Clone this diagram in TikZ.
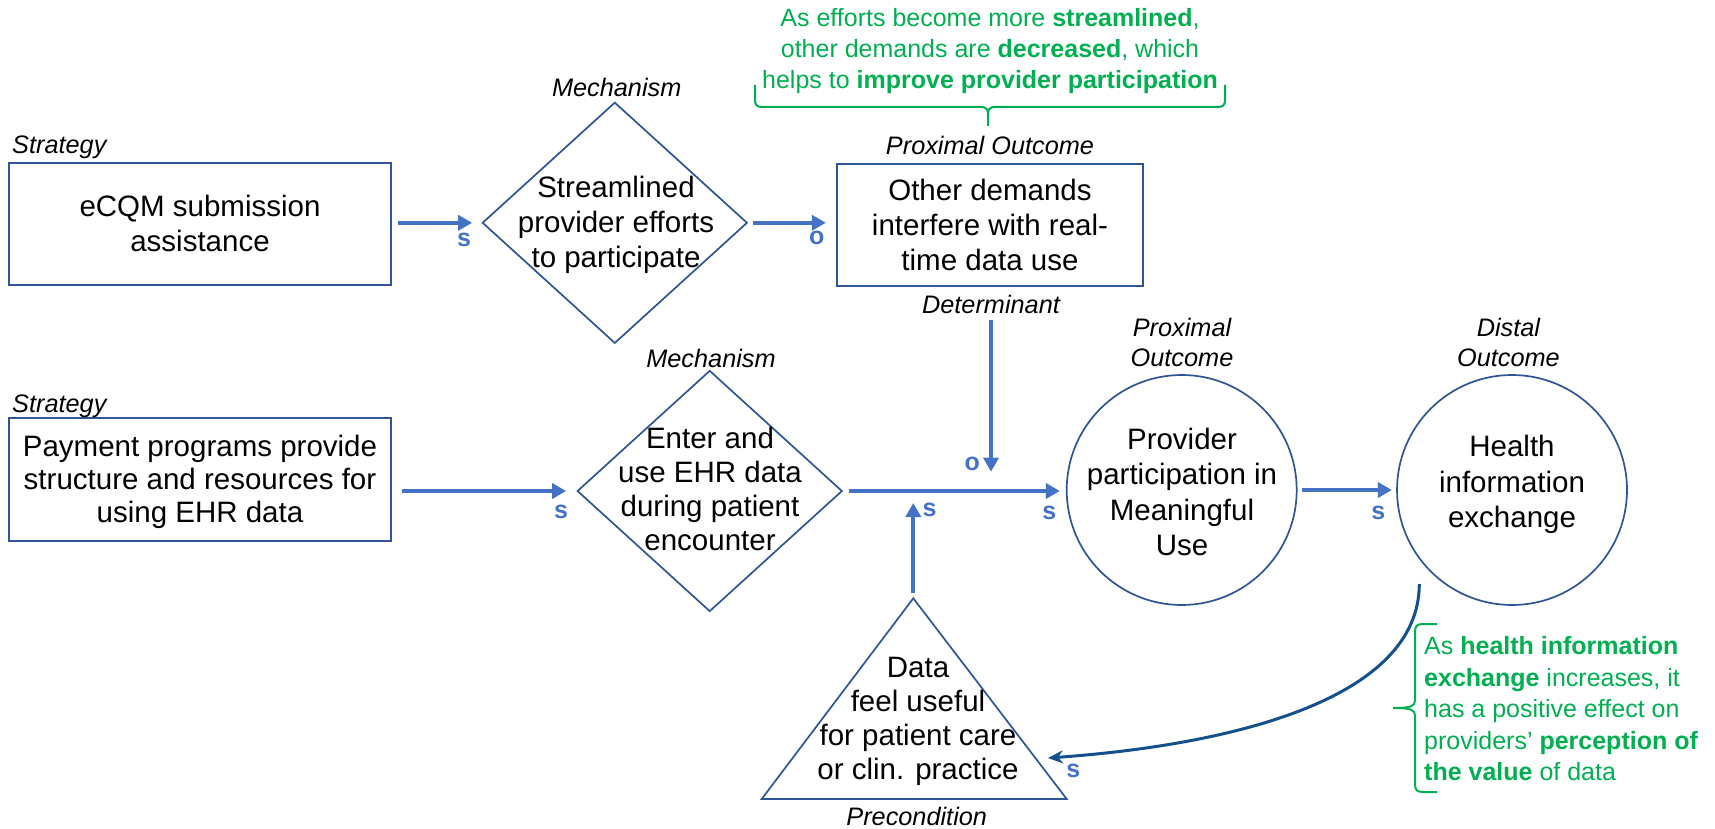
\documentclass[tikz,border=0pt]{standalone}
\usepackage{fontspec}
\setmainfont{Liberation Sans}
\usetikzlibrary{arrows.meta,shapes.geometric,calc}

\definecolor{outline}{RGB}{47,85,151}
\definecolor{flowblue}{RGB}{68,114,196}
\definecolor{notegreen}{RGB}{0,176,80}
\definecolor{loopblue}{RGB}{20,80,140}

\begin{document}
\begin{tikzpicture}[x=1pt,y=-1pt,
  shapeline/.style={draw=outline,line width=1.7pt},
  box/.style={shapeline,rectangle,minimum width=382pt,minimum height=122pt,inner sep=0pt},
  dia/.style={shapeline,diamond,minimum width=265pt,minimum height=241pt,inner sep=0pt},
  ring/.style={shapeline,circle,minimum size=230pt,inner sep=0pt},
  txt/.style={align=center,inner sep=0pt,font=\fontsize{29.5}{35}\selectfont},
  tag/.style={align=center,inner sep=0pt,font=\fontsize{25.3}{30}\selectfont\itshape},
  sig/.style={inner sep=0pt,text=flowblue,font=\fontsize{25}{25}\selectfont\bfseries},
  note/.style={inner sep=0pt,text=notegreen,font=\fontsize{25}{31}\selectfont},
  flow/.style={draw=flowblue,line width=4pt,-{Triangle[length=14pt,width=15pt]}},
  feedback/.style={draw=loopblue,line width=3pt,-{Stealth[length=15pt,width=13pt]}},
  bracket/.style={draw=notegreen,line width=2pt,line join=round}]

\path[use as bounding box,fill=white] (0,0) rectangle (1715,829);

% ---------- upper row ----------
\node[box] (b1) at (200,224) {};
\node[txt] (b1t) at (200,223) {eCQM submission\\assistance};
\node[tag,anchor=west] (b1l) at (12,147) {Strategy};

\node[dia] (d1) at (614.8,222.8) {};
\node[txt] (d1t) at (616,224.5) {Streamlined\\provider efforts\\to participate};
\node[tag] (d1l) at (616.7,87) {Mechanism};

\node[box,minimum width=306pt] (b2) at (990.3,225) {};
\node[txt] (b2t) at (990,224.5) {Other demands\\interfere with real-\\time data use};
\node[tag] (b2l) at (990,145.5) {Proximal Outcome};
\node[tag] (detlab) at (991,304) {Determinant};

% ---------- note above the upper row ----------
\node[note,align=center] (topnote) at (990,51)
  {As efforts become more \textbf{streamlined},\\
   other demands are \textbf{decreased}, which\\
   helps to \textbf{improve provider participation}};
\draw[bracket] (755,85) -- (755,100) .. controls (755,105) and (757,107) .. (762,107)
  -- (981,107) .. controls (986,107) and (988,109) .. (988,114) -- (988,126)
  (988,114) .. controls (988,109) and (990,107) .. (995,107)
  -- (1218,107) .. controls (1223,107) and (1225,105) .. (1225,100) -- (1225,85);

% ---------- lower row ----------
\node[box,minimum height=123pt] (b3) at (200,479.7) {};
\node[txt,font=\fontsize{29.5}{33}\selectfont] (b3t) at (200,482) {Payment programs provide\\structure and resources for\\using EHR data};
\node[tag,anchor=west] (b3l) at (12,406) {Strategy};

\node[dia] (d2) at (709.7,491) {};
\node[txt,font=\fontsize{29.5}{34}\selectfont] (d2t) at (710,488.5) {Enter and\\use EHR data\\during patient\\encounter};
\node[tag] (d2l) at (711,358) {Mechanism};

\node[ring] (c1) at (1181.7,490) {};
\node[txt,font=\fontsize{29.5}{35.5}\selectfont] (c1t) at (1182,492) {Provider\\participation in\\Meaningful\\Use};
\node[tag] (c1l) at (1182,342) {Proximal\\Outcome};

\node[ring] (c2) at (1512,490) {};
\node[txt,font=\fontsize{29.5}{35.5}\selectfont] (c2t) at (1512,484.5) {Health\\information\\exchange};
\node[tag] (c2l) at (1508.4,342) {Distal\\Outcome};

% precondition triangle
\coordinate (tri-top) at (913.3,598.3);
\coordinate (tri-l) at (761.7,799);
\coordinate (tri-r) at (1066.7,799);
\draw[shapeline] (tri-top) -- (tri-r) -- (tri-l) -- cycle;
\node[txt,font=\fontsize{29.5}{34}\selectfont] (trit) at (918,721) {Data\\feel useful\\for patient care\\or clin. practice};
\node[tag] (tril) at (916.7,816) {Precondition};

% ---------- connectors ----------
\draw[flow] ($(b1.east |- d1.west)+(6.5,0)$) -- ($(d1.west)+(-9.3,0)$);
\node[sig] (s1) at (464,240) {s};

\draw[flow] ($(d1.east)+(4.4,0)$) -- ($(d1.east -| b2.west)+(-10.6,0)$);
\node[sig] (o1) at (816.7,238.3) {o};

\coordinate (jo) at (991,491);
\draw[flow] ($(detlab.south)+(0,7)$) -- ($(jo)+(0,-19.3)$);
\node[sig] (o2) at (972.3,464.3) {o};

\draw[flow] ($(b3.east |- d2.west)+(10.4,0)$) -- ($(d2.west)+(-10.2,0)$);
\node[sig] (s2) at (561,511.7) {s};

\draw[flow] ($(d2.east)+(5.7,0)$) -- ($(d2.east -| c1.west)+(-6,0)$);
\node[sig] (s3) at (1049.3,512.7) {s};

\coordinate (js) at (913.3,491);
\draw[flow] ($(tri-top)+(0,-5)$) -- ($(js)+(0,12)$);
\node[sig] (s4) at (929.6,510) {s};

\draw[flow] ($(c1.east)+(4.3,0)$) -- ($(c2.west)+(-4.3,0)$);
\node[sig] (s5) at (1378.3,512.7) {s};

% feedback from exchange back to the precondition
\coordinate (loop-start) at ($(c2.center)+(-92.7,94)$);
\coordinate (loop-end) at (1048,758);
\draw[feedback] (loop-start) .. controls (1419,700) and (1230,745) .. (loop-end);
\node[sig] (s6) at (1073.3,771) {s};

% ---------- note beside the feedback loop ----------
\draw[bracket] (1437,624) -- (1423,624) .. controls (1417,624) and (1415,626) .. (1415,632)
  -- (1415,700) .. controls (1415,706) and (1412,708) .. (1393,708)
  (1393,708) .. controls (1412,708) and (1415,710) .. (1415,716)
  -- (1415,784) .. controls (1415,790) and (1417,792) .. (1423,792) -- (1437,792);
\node[note,align=left,anchor=west,font=\fontsize{25}{31.5}\selectfont] (sidenote) at (1424,709)
  {As \textbf{health information}\\
   \textbf{exchange} increases, it\\
   has a positive effect on\\
   providers’ \textbf{perception of}\\
   \textbf{the value} of data};

\end{tikzpicture}
\end{document}
